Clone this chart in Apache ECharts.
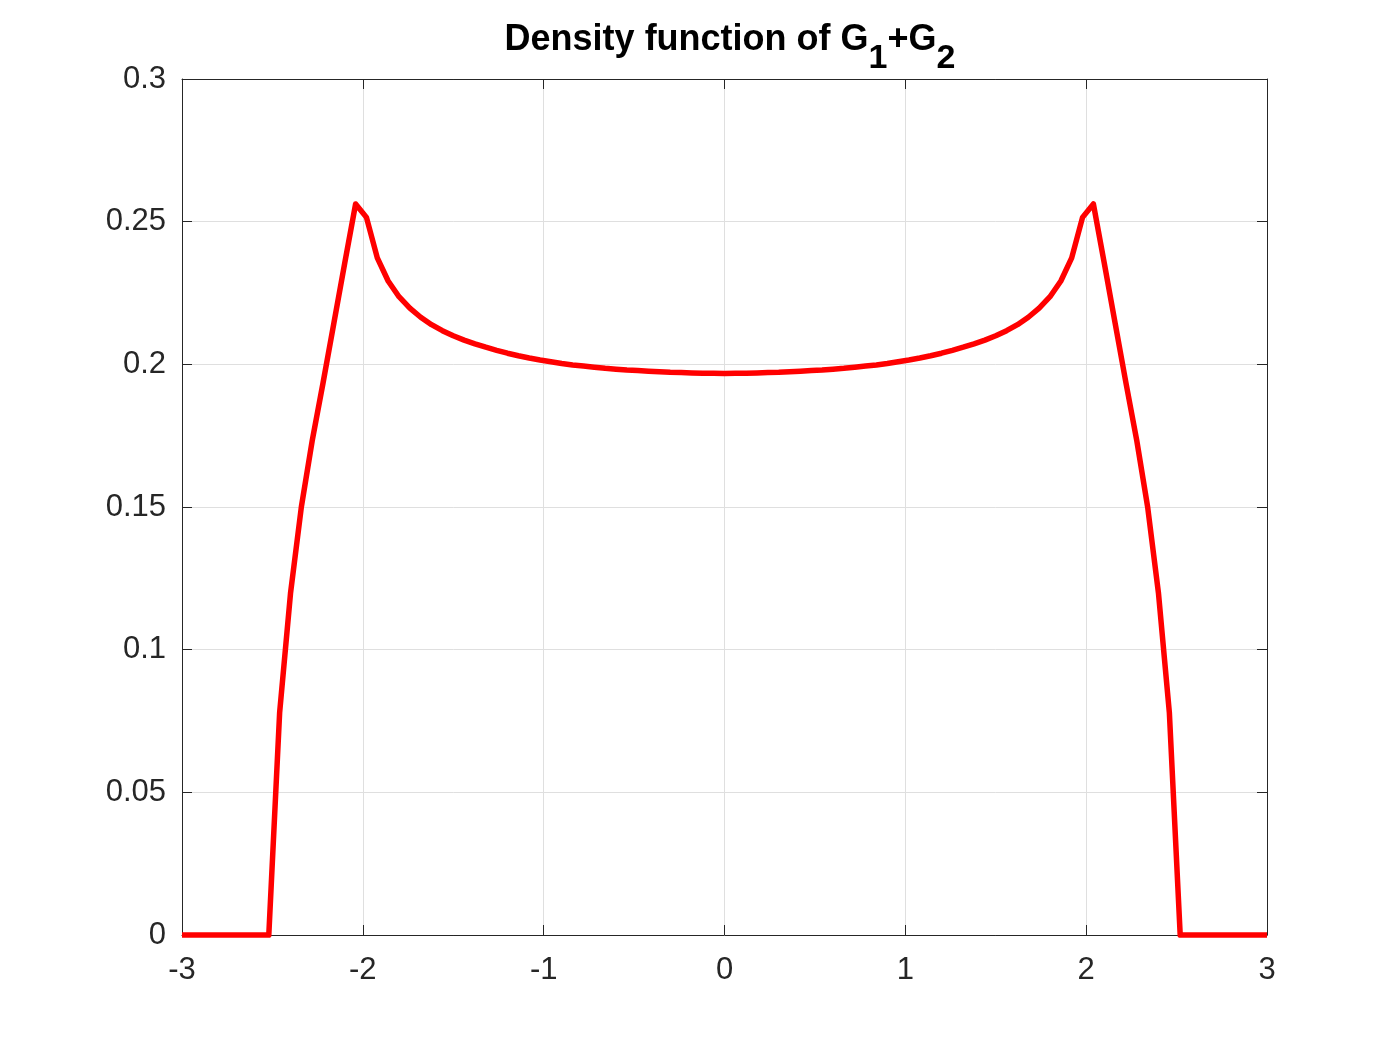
<!DOCTYPE html>
<html>
<head>
<meta charset="utf-8">
<script src="https://cdn.jsdelivr.net/npm/echarts@6/dist/echarts.min.js"></script>
<style>html,body{margin:0;padding:0;background:#fff;}#c{width:1400px;height:1050px;}</style>
</head>
<body>
<div id="c"></div>
<script>
const xTickValues = [-3, -2, -1, 0, 1, 2, 3];
const yTickValues = [0, 0.05, 0.1, 0.15, 0.2, 0.25, 0.3];
const xs = [-3, -2.94, -2.88, -2.82, -2.76, -2.7, -2.64, -2.58, -2.52, -2.46, -2.4, -2.34, -2.28, -2.22, -2.16, -2.1, -2.04, -1.98, -1.92, -1.86, -1.8, -1.74, -1.68, -1.62, -1.56, -1.5, -1.44, -1.38, -1.32, -1.26, -1.2, -1.14, -1.08, -1.02, -0.96, -0.9, -0.84, -0.78, -0.72, -0.66, -0.6, -0.54, -0.48, -0.42, -0.36, -0.3, -0.24, -0.18, -0.12, -0.06, 0,
  0.06, 0.12, 0.18, 0.24, 0.3, 0.36, 0.42, 0.48, 0.54, 0.6, 0.66, 0.72, 0.78, 0.84, 0.9, 0.96, 1.02, 1.08, 1.14, 1.2, 1.26, 1.32, 1.38, 1.44, 1.5, 1.56, 1.62, 1.68, 1.74, 1.8, 1.86, 1.92, 1.98, 2.04, 2.1, 2.16, 2.22, 2.28, 2.34, 2.4, 2.46, 2.52, 2.58, 2.64, 2.7, 2.76, 2.82, 2.88, 2.94, 3];
const density = [0, 0, 0, 0, 0, 0, 0, 0, 0, 0.078, 0.1197, 0.150, 0.1732, 0.1935, 0.2145, 0.2355, 0.2562, 0.2515, 0.2373, 0.2292, 0.2237, 0.2197, 0.2165, 0.2139, 0.2118, 0.2100, 0.2085, 0.2072, 0.2060, 0.2049, 0.2039, 0.2030, 0.2022, 0.2015, 0.2009, 0.2003, 0.1998, 0.1994, 0.1990, 0.1986, 0.1983, 0.1980, 0.1978, 0.1976, 0.1974, 0.1972, 0.1971, 0.1970, 0.1969, 0.1969, 0.1968,
  0.1969, 0.1969, 0.1970, 0.1971, 0.1972, 0.1974, 0.1976, 0.1978, 0.1980, 0.1983, 0.1986, 0.1990, 0.1994, 0.1998, 0.2003, 0.2009, 0.2015, 0.2022, 0.2030, 0.2039, 0.2049, 0.2060, 0.2072, 0.2085, 0.2100, 0.2118, 0.2139, 0.2165, 0.2197, 0.2237, 0.2292, 0.2373, 0.2515, 0.2562, 0.2355, 0.2145, 0.1935, 0.1732, 0.150, 0.1197, 0.078, 0, 0, 0, 0, 0, 0, 0, 0, 0];

const chart = echarts.init(document.getElementById('c'), null, {renderer: 'canvas'});
const axisColor = '#262626';
const font = 'Arial, "Liberation Sans", Helvetica, sans-serif';
const tick = {show: true, inside: true, length: 10, lineStyle: {color: axisColor, width: 1}};
const line = {show: true, onZero: false, lineStyle: {color: axisColor, width: 1}};
const commonX = {type: 'value', min: xTickValues[0], max: xTickValues[xTickValues.length - 1], interval: 1, axisLine: line, axisTick: tick};
const commonY = {type: 'value', min: yTickValues[0], max: yTickValues[yTickValues.length - 1], interval: 0.05, axisLine: line, axisTick: tick};
chart.setOption({
  animation: false,
  backgroundColor: '#ffffff',
  title: {
    text: '{n|Density function of G}{s|1}{n|+G}{s|2}',
    left: 725, textAlign: 'center', top: 17,
    textStyle: {
      rich: {
        n: {fontFamily: font, fontWeight: 'bold', fontSize: 36, color: '#000', lineHeight: 42, verticalAlign: 'top'},
        s: {fontFamily: font, fontWeight: 'bold', fontSize: 34, color: '#000', lineHeight: 42, padding: [20, 0, 0, 0], verticalAlign: 'top'}
      }
    }
  },
  grid: {left: 182, right: 133, top: 79, bottom: 115, show: false},
  xAxis: [
    Object.assign({}, commonX, {
      position: 'bottom',
      axisLabel: {show: true, color: axisColor, fontFamily: font, fontSize: 31, margin: 20},
      splitLine: {show: true, lineStyle: {color: '#dfdfdf', width: 1}}
    }),
    Object.assign({}, commonX, {position: 'top', axisLabel: {show: false}, splitLine: {show: false}})
  ],
  yAxis: [
    Object.assign({}, commonY, {
      position: 'left',
      axisLabel: {show: true, color: axisColor, fontFamily: font, fontSize: 31, margin: 16, padding: [6, 0, 0, 0]},
      splitLine: {show: true, lineStyle: {color: '#dfdfdf', width: 1}}
    }),
    Object.assign({}, commonY, {position: 'right', axisLabel: {show: false}, splitLine: {show: false}})
  ],
  series: [{
    type: 'line',
    xAxisIndex: 0, yAxisIndex: 0,
    data: xs.map((x, i) => [x, density[i]]),
    showSymbol: false, symbol: 'none',
    lineStyle: {color: '#ff0000', width: 5.5, join: 'round'},
    clip: false
  }]
});
</script>
</body>
</html>
